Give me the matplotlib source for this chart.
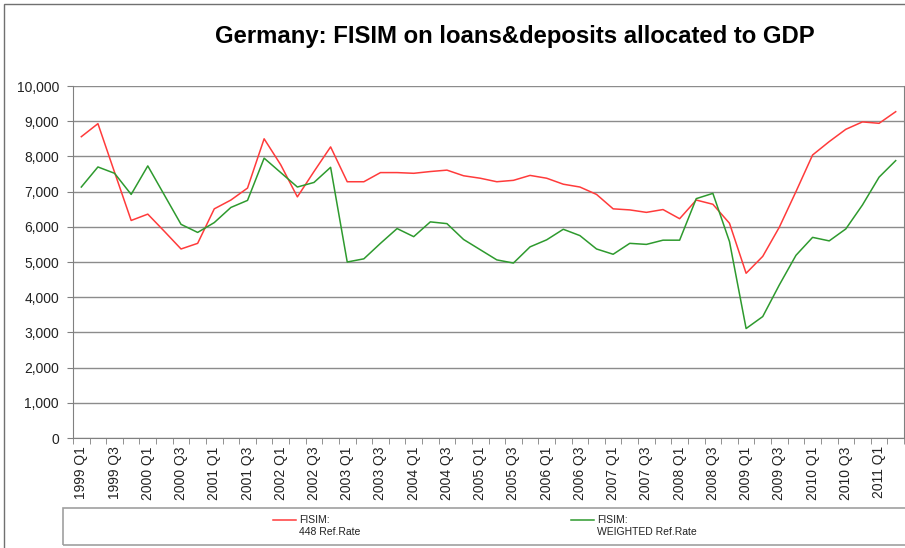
import matplotlib
matplotlib.use("Agg")
import matplotlib.pyplot as plt
from matplotlib.lines import Line2D
from matplotlib.patches import Rectangle
from matplotlib.ticker import FuncFormatter, FixedLocator

plt.rcParams['font.family'] = ['Liberation Sans', 'DejaVu Sans']

# quarters 1999 Q1 .. 2011 Q2
quarters = [f"{y} Q{q}" for y in range(1999, 2012) for q in range(1, 5)][:50]

fisim_448 = [8560, 8930, 7550, 6180, 6360, 5870, 5370, 5530, 6510, 6760,
             7100, 8500, 7760, 6850, 7570, 8270, 7280, 7280, 7540, 7540,
             7520, 7570, 7610, 7450, 7380, 7280, 7320, 7460, 7380, 7210,
             7130, 6920, 6510, 6480, 6410, 6490, 6230, 6760, 6640, 6100,
             4680, 5160, 5990, 7000, 8040, 8420, 8770, 8980, 8940, 9270]

fisim_weighted = [7130, 7700, 7520, 6920, 7730, 6900, 6070, 5840, 6120, 6550,
                  6750, 7950, 7540, 7130, 7260, 7690, 5000, 5090, 5530, 5950,
                  5720, 6140, 6090, 5640, 5350, 5060, 4970, 5430, 5630, 5930,
                  5750, 5370, 5220, 5530, 5500, 5620, 5620, 6800, 6950, 5580,
                  3110, 3450, 4350, 5190, 5700, 5600, 5940, 6620, 7410, 7880]

W, H = 905, 548
fig = plt.figure(figsize=(W / 100, H / 100), dpi=100)
ax = fig.add_axes([73 / W, (H - 438) / H, (904 - 73) / W, (438 - 86) / H])

x = list(range(len(quarters)))
ax.plot(x, fisim_448, color='#ff3b3b', lw=1.1)
ax.plot(x, fisim_weighted, color='#2e9a2e', lw=1.1)

ax.set_xlim(-0.5, len(quarters) - 0.5)
ax.set_ylim(0, 10000)
ax.set_yticks(range(0, 10001, 1000))
ax.yaxis.set_major_formatter(FuncFormatter(lambda v, p: f"{int(v):,}"))
ax.grid(axis='y', color='#8c8c8c', lw=1)
ax.set_axisbelow(True)

ax.set_xticks(x[::2])
ax.set_xticklabels(quarters[::2], rotation=90)
ax.xaxis.set_minor_locator(FixedLocator([i - 0.5 for i in range(len(quarters) + 1)]))
ax.tick_params(axis='x', which='major', length=0, pad=6, labelsize=10, labelcolor='#222222')
ax.tick_params(axis='x', which='minor', length=4, color='#808080', direction='out')
ax.tick_params(axis='y', length=4, color='#808080', labelsize=10, labelcolor='#222222', pad=6)

for s in ['left', 'bottom', 'right']:
    ax.spines[s].set_color('#808080')
ax.spines['top'].set_visible(False)

fig.text(515 / W, (H - 43) / H, "Germany: FISIM on loans&deposits allocated to GDP",
         ha='center', va='baseline', fontsize=17.2, fontweight='bold')

# outer chart border (cut off at right/bottom)
fig.add_artist(Rectangle((4 / W, -0.1), 1.2, (H - 4) / H + 0.1, transform=fig.transFigure,
                         fill=False, ec='#707070', lw=1))
# legend box
fig.add_artist(Rectangle((63 / W, (H - 545) / H), 1.0, 37 / H, transform=fig.transFigure,
                         fill=False, ec='#a0a0a0', lw=1.2))

legend_items = [("FISIM:\n448 Ref.Rate", '#ff3b3b', 273),
                ("FISIM:\nWEIGHTED Ref.Rate", '#2e9a2e', 571)]
for label, col, x0 in legend_items:
    yy = (H - 520) / H
    fig.add_artist(Line2D([x0 / W, (x0 + 23) / W], [yy, yy], color=col, lw=1.1,
                          transform=fig.transFigure))
    fig.text((x0 + 26) / W, (H - 515) / H, label, ha='left', va='top',
             fontsize=7.5, color='#222222', linespacing=1.25)

fig.savefig("out.png", dpi=100)
